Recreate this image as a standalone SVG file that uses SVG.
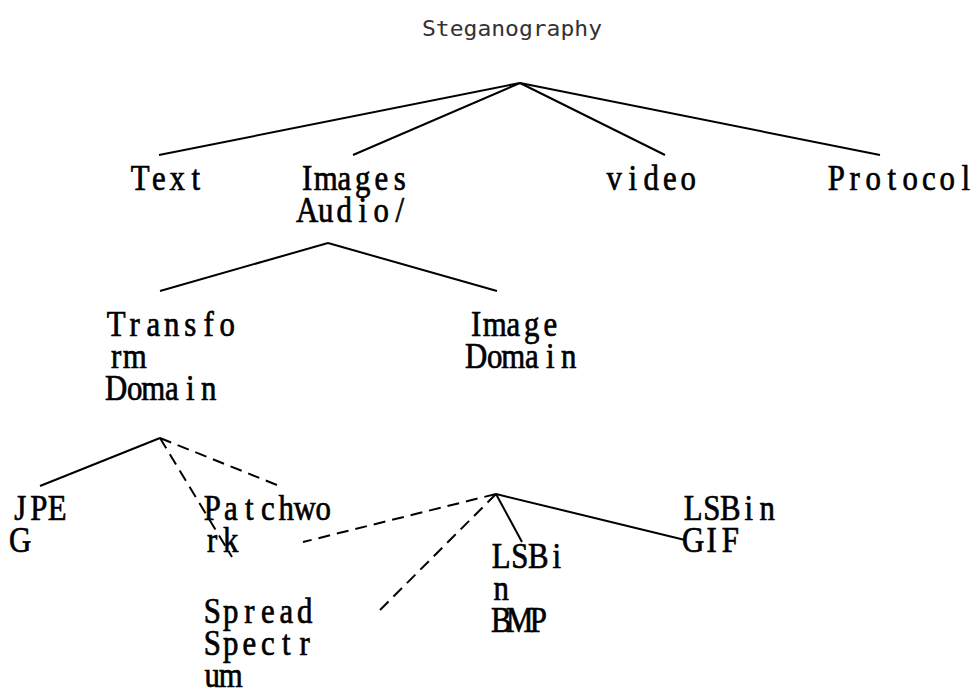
<svg xmlns="http://www.w3.org/2000/svg" width="977" height="689" viewBox="0 0 977 689">
<style>
.lbl{font-family:"Liberation Serif","Times New Roman",serif;font-size:35px;fill:#000;stroke:#000;stroke-width:0.7;text-anchor:middle}
.title{font-family:"DejaVu Sans Mono","Liberation Mono",monospace;font-size:21px;fill:#333}
.ln{stroke:#000;stroke-width:2;fill:none}
.dash{stroke:#000;stroke-width:2;fill:none;stroke-dasharray:12 7}
</style>
<rect width="977" height="689" fill="#fff"/>
<g id="connectors">
<line class="ln" x1="520" y1="83" x2="159" y2="155"/>
<line class="ln" x1="520" y1="83" x2="353" y2="155"/>
<line class="ln" x1="520" y1="83" x2="665" y2="155"/>
<line class="ln" x1="520" y1="83" x2="880" y2="155"/>
<line class="ln" x1="328" y1="243" x2="160" y2="291"/>
<line class="ln" x1="328" y1="243" x2="497" y2="291"/>
<line class="ln" x1="160" y1="438" x2="40" y2="486"/>
<line class="dash" x1="160" y1="438" x2="232" y2="557"/>
<line class="dash" x1="160" y1="438" x2="282" y2="487"/>
<line class="dash" x1="496" y1="494" x2="303" y2="542"/>
<line class="dash" x1="496" y1="494" x2="380" y2="610"/>
<line class="ln" x1="496" y1="494" x2="522" y2="542"/>
<line class="ln" x1="496" y1="494" x2="685" y2="540"/>
</g>
<g id="root"><text class="title" x="422" y="36" textLength="180" lengthAdjust="spacingAndGlyphs">Steganography</text></g>
<g id="text" transform="translate(131,190) scale(0.88,1)"><text class="lbl" x="10.5 31.5 52.6 73.6" y="0">Text</text></g>
<g id="images-audio" transform="translate(298,190) scale(0.88,1)">
<text class="lbl" x="10.5 31.5 52.6 73.6 94.6 115.6" y="0">Images</text>
<text class="lbl" x="10.5 31.5 52.6 73.6 94.6 115.6" y="32">Audio/</text>
</g>
<g id="video" transform="translate(605,190) scale(0.88,1)"><text class="lbl" x="10.5 31.5 52.6 73.6 94.6" y="0">video</text></g>
<g id="protocol" transform="translate(827,190) scale(0.88,1)"><text class="lbl" x="10.5 31.5 52.6 73.6 94.6 115.6 136.6 157.6" y="0">Protocol</text></g>
<g id="transform-domain" transform="translate(107,336) scale(0.88,1)">
<text class="lbl" x="10.5 31.5 52.6 73.6 94.6 115.6 136.6" y="0">Transfo</text>
<text class="lbl" x="10.5 31.5" y="32">rm</text>
<text class="lbl" x="10.5 31.5 52.6 73.6 94.6 115.6" y="64">Domain</text>
</g>
<g id="image-domain" transform="translate(467,336) scale(0.88,1)">
<text class="lbl" x="10.5 31.5 52.6 73.6 94.6" y="0">Image</text>
<text class="lbl" x="10.5 31.5 52.6 73.6 94.6 115.6" y="32">Domain</text>
</g>
<g id="jpeg" transform="translate(11,520) scale(0.88,1)">
<text class="lbl" x="10.5 31.5 52.6" y="0">JPE</text>
<text class="lbl" x="10.5" y="32">G</text>
</g>
<g id="patchwork" transform="translate(203,520) scale(0.88,1)">
<text class="lbl" x="10.5 31.5 52.6 73.6 94.6 115.6 136.6" y="0">Patchwo</text>
<text class="lbl" x="10.5 31.5" y="32">rk</text>
</g>
<g id="spread-spectrum" transform="translate(203,623) scale(0.88,1)">
<text class="lbl" x="10.5 31.5 52.6 73.6 94.6 115.6" y="0">Spread</text>
<text class="lbl" x="10.5 31.5 52.6 73.6 94.6 115.6" y="32">Spectr</text>
<text class="lbl" x="10.5 31.5" y="64">um</text>
</g>
<g id="lsbin-bmp" transform="translate(492,568) scale(0.88,1)">
<text class="lbl" x="10.5 31.5 52.6 73.6" y="0">LSBi</text>
<text class="lbl" x="10.5" y="32">n</text>
<text class="lbl" x="10.5 31.5 52.6" y="64">BMP</text>
</g>
<g id="lsbin-gif" transform="translate(684,520) scale(0.88,1)">
<text class="lbl" x="10.5 31.5 52.6 73.6 94.6" y="0">LSBin</text>
<text class="lbl" x="10.5 31.5 52.6" y="32">GIF</text>
</g>
</svg>
